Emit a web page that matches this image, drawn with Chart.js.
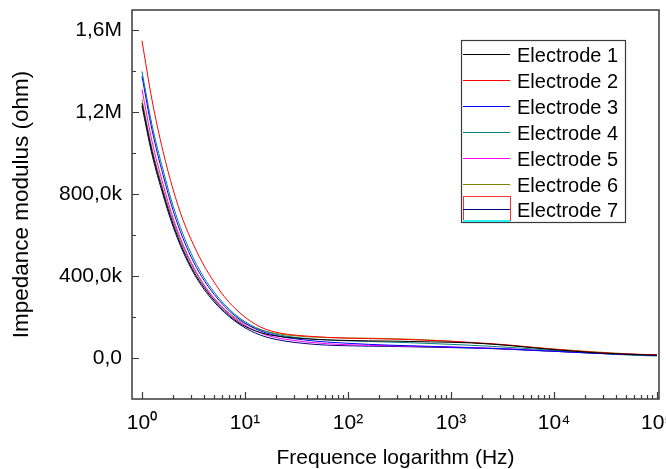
<!DOCTYPE html>
<html>
<head>
<meta charset="utf-8">
<script src="https://cdn.jsdelivr.net/npm/chart.js@4/dist/chart.umd.min.js"></script>
<style>
  html, body { margin: 0; padding: 0; background: #fff; }
  #wrap { width: 666px; height: 469px; }
</style>
</head>
<body>
<div id="wrap"><canvas id="impedanceChart" width="666" height="469"></canvas></div>
<script>
// Frequencies (Hz) and impedance modulus (kOhm)
const frequencies = [1, 1.25, 1.6, 2, 2.5, 3.2, 4, 5, 6.3, 8, 10, 12.6, 16, 20, 25, 32, 40, 50, 63, 80, 100,
    158, 251, 398, 631, 1000, 1585, 2512, 3981, 6310, 10000, 15850, 25120, 39810, 63100, 100000];

const electrode1 = [1245, 1010, 810, 655, 530, 420, 345, 283, 230, 185, 155, 133, 117, 108, 102, 97, 94, 91, 89, 87, 86,
    84, 83, 81, 79, 77, 74, 68, 60, 50, 41, 33, 26, 21, 17, 14];
const electrode2 = [1550, 1262, 1010, 825, 675, 548, 452, 372, 300, 243, 200, 165, 140, 126, 117, 111, 107, 104, 101, 99, 97,
    95, 93, 90, 86, 82, 76, 70, 62, 52, 43, 35, 28, 22, 18, 15];
const electrode3 = [1376, 1115, 895, 722, 585, 465, 380, 312, 254, 206, 171, 143, 123, 110, 100, 93, 87, 82, 78, 75, 72,
    67, 63, 60, 57, 54, 50, 47, 43, 38, 33, 28, 23, 19, 16, 14];
const electrode4 = [1400, 1140, 920, 745, 605, 482, 393, 323, 263, 213, 178, 150, 130, 116, 107, 100, 95, 91, 88, 86, 84,
    81, 78, 75, 71, 67, 62, 57, 51, 44, 37, 30, 24, 18, 13, 10];
const electrode5 = [1312, 1060, 850, 685, 555, 440, 358, 293, 238, 192, 160, 133, 113, 100, 91, 84, 78, 74, 70, 67, 65,
    62, 60, 58, 56, 54, 51, 48, 44, 39, 34, 29, 25, 21, 18, 15];
const electrode6 = [1263, 1025, 825, 670, 545, 433, 355, 292, 240, 197, 168, 146, 130, 120, 113, 108, 104, 102, 100, 99, 98,
    97, 95, 92, 88, 82, 75, 68, 60, 52, 44, 37, 30, 24, 19, 15];
const electrode7 = [1230, 995, 797, 643, 520, 412, 336, 275, 223, 180, 148, 122, 103, 91, 82, 75, 70, 66, 63, 61, 60,
    58, 57, 55, 53, 51, 49, 46, 42, 37, 33, 28, 24, 20, 16, 13];

const seriesNames = ['Electrode 1', 'Electrode 2', 'Electrode 3', 'Electrode 4', 'Electrode 5', 'Electrode 6', 'Electrode 7'];
const seriesColors = ['#000000', '#ff0000', '#0000ff', '#008080', '#ff00ff', '#808000', '#000080'];

// Axis ticks
const xMajorTicks = [1, 10, 100, 1000, 10000, 100000];
const xTickLabels = ['10\u2070', '10\u00b9', '10\u00b2', '10\u00b3', '10\u2074', '10\u2075'];
const yMajorTicks = [0, 400, 800, 1200, 1600];
const yMinorTicks = [200, 600, 1000, 1400];
const yTickLabels = ['0,0', '400,0k', '800,0k', '1,2M', '1,6M'];

const allSeries = [electrode1, electrode2, electrode3, electrode4, electrode5, electrode6, electrode7];

// Frame, inward ticks
const frameAndTicks = {
    id: 'frameAndTicks',
    afterDatasetsDraw(chart) {
        const { ctx, chartArea: a, scales: { x, y } } = chart;
        ctx.save();
        ctx.strokeStyle = '#3a3a3a';
        ctx.lineWidth = 1.5;
        ctx.strokeRect(a.left, a.top, a.right - a.left, a.bottom - a.top);

        ctx.lineWidth = 1.2;
        ctx.beginPath();
        yMajorTicks.forEach(v => {
            const py = Math.round(y.getPixelForValue(v)) + 0.5;
            ctx.moveTo(a.left, py); ctx.lineTo(a.left + 7, py);
        });
        yMinorTicks.forEach(v => {
            const py = Math.round(y.getPixelForValue(v)) + 0.5;
            ctx.moveTo(a.left, py); ctx.lineTo(a.left + 4, py);
        });
        xMajorTicks.forEach((v, i) => {
            const px = Math.round(x.getPixelForValue(v)) + 0.5;
            ctx.moveTo(px, a.bottom); ctx.lineTo(px, a.bottom - 7);
            if (i < xMajorTicks.length - 1) {
                for (let d = 2; d <= 9; d++) {
                    const mx = Math.round(x.getPixelForValue(d * v)) + 0.5;
                    ctx.moveTo(mx, a.bottom); ctx.lineTo(mx, a.bottom - 4);
                }
            }
        });
        ctx.stroke();
        ctx.restore();
    }
};

// Boxed legend inside the plot, top right
const boxedLegend = {
    id: 'boxedLegend',
    afterDraw(chart) {
        const { ctx, chartArea: a } = chart;
        const left = a.right - 198, top = a.top + 30, w = 164, h = 182;
        const rowH = 25.9;
        ctx.save();
        ctx.fillStyle = '#fff';
        ctx.fillRect(left, top, w, h);
        ctx.strokeStyle = '#3a3a3a';
        ctx.lineWidth = 1.2;
        ctx.strokeRect(left + 0.5, top + 0.5, w, h);
        ctx.font = '20px "Liberation Sans", Arial, sans-serif';
        ctx.textBaseline = 'alphabetic';
        chart.data.datasets.forEach((ds, i) => {
            const cy = Math.round(top + 14 + i * rowH) + 0.5;
            if (i === 6) {
                ctx.strokeStyle = '#ff3030';
                ctx.lineWidth = 1;
                ctx.strokeRect(left + 2.5, cy - 13, 47, 24);
                ctx.strokeStyle = '#30f0f0';
                ctx.lineWidth = 2;
                ctx.beginPath(); ctx.moveTo(left + 2, top + h - 1); ctx.lineTo(left + 49, top + h - 1); ctx.stroke();
            }
            ctx.strokeStyle = ds.borderColor;
            ctx.lineWidth = 1;
            ctx.beginPath();
            ctx.moveTo(left + 2, cy); ctx.lineTo(left + 49, cy);
            ctx.stroke();
            ctx.fillStyle = '#000';
            ctx.fillText(ds.label, left + 56, cy + 7);
        });
        ctx.restore();
    }
};

const ctx = document.getElementById('impedanceChart').getContext('2d');
new Chart(ctx, {
    type: 'line',
    data: {
        labels: frequencies,
        datasets: allSeries.map((vals, i) => ({
            label: seriesNames[i],
            data: vals,
            borderColor: seriesColors[i],
            backgroundColor: seriesColors[i],
            borderWidth: 1,
            pointRadius: 0,
            cubicInterpolationMode: 'monotone',
            fill: false
        }))
    },
    options: {
        responsive: false,
        animation: false,
        devicePixelRatio: 1,
        layout: { padding: { left: 0, top: 10, right: 7, bottom: 0 } },
        plugins: { legend: { display: false }, tooltip: { enabled: false } },
        scales: {
            x: {
                type: 'logarithmic',
                min: 0.8,
                max: 104570,
                afterBuildTicks: s => { s.ticks = xMajorTicks.map(v => ({ value: v })); },
                afterFit: s => { s.height = 70; s.paddingLeft = 0; s.paddingRight = 0; },
                grid: { display: false, drawTicks: false },
                border: { display: false },
                ticks: {
                    autoSkip: false,
                    maxRotation: 0,
                    padding: 12,
                    color: '#000',
                    font: { family: '"Liberation Sans", Arial, sans-serif', size: 21 },
                    callback: (v) => xTickLabels[xMajorTicks.indexOf(v)]
                },
                title: {
                    display: true,
                    text: 'Frequence logarithm (Hz)',
                    color: '#000',
                    font: { family: '"Liberation Sans", Arial, sans-serif', size: 21, lineHeight: 1 },
                    padding: { top: 0, bottom: 0 }
                }
            },
            y: {
                type: 'linear',
                min: -200,
                max: 1700,
                afterBuildTicks: s => { s.ticks = yMajorTicks.map(v => ({ value: v })); },
                afterFit: s => { s.width = 132; s.paddingTop = 0; s.paddingBottom = 0; },
                grid: { display: false, drawTicks: false },
                border: { display: false },
                ticks: {
                    padding: 10,
                    color: '#000',
                    font: { family: '"Liberation Sans", Arial, sans-serif', size: 21 },
                    callback: (v) => yTickLabels[yMajorTicks.indexOf(v)]
                },
                title: {
                    display: true,
                    text: 'Impedance modulus (ohm)',
                    color: '#000',
                    font: { family: '"Liberation Sans", Arial, sans-serif', size: 22.5 },
                    padding: { top: 8, bottom: 0 }
                }
            }
        }
    },
    plugins: [frameAndTicks, boxedLegend]
});
</script>
</body>
</html>
